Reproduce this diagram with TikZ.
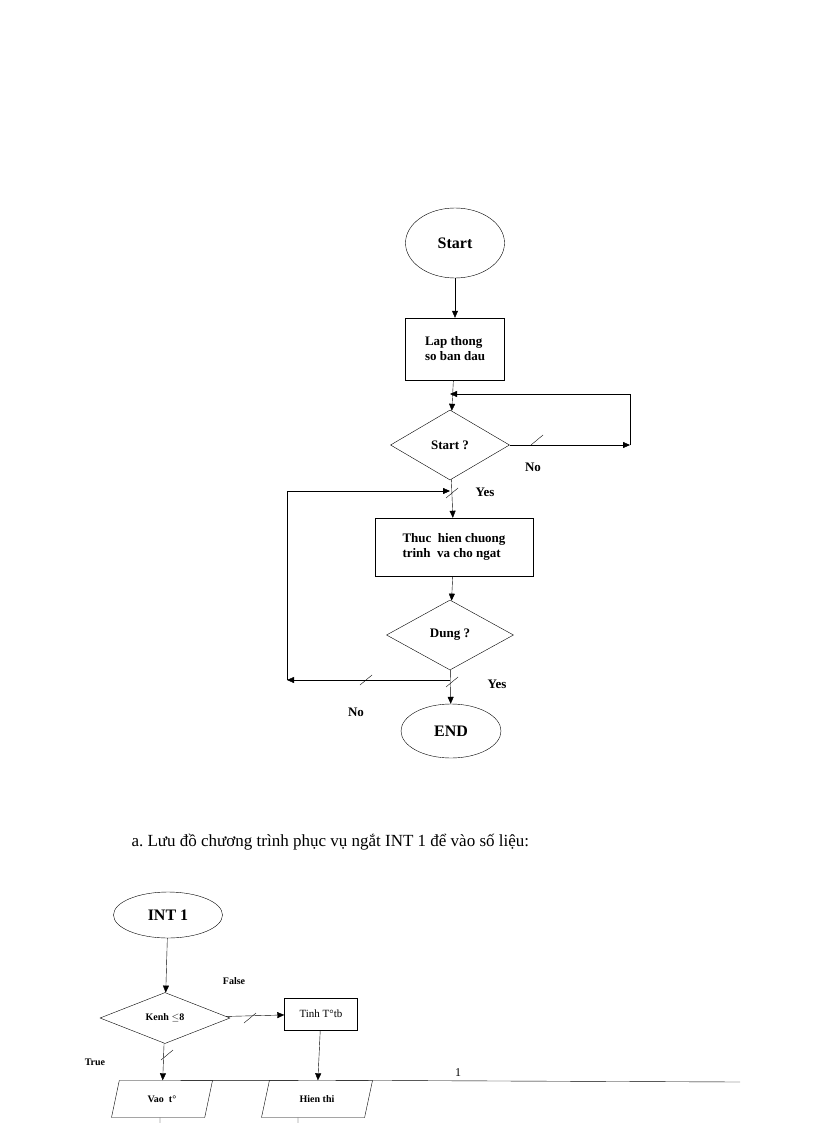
\documentclass[tikz,border=0pt]{standalone}
\usepackage{fontspec}
\setmainfont{Liberation Serif}
\usetikzlibrary{shapes.geometric,arrows.meta}
\tikzset{
  flow/.style={-{Triangle[length=7pt,width=6pt]}},
  lbl/.style={font=\fontsize{13}{15}\selectfont\bfseries},
  term/.style={draw,ellipse,font=\fontsize{16}{18}\selectfont\bfseries},
  proc/.style={draw,rectangle,align=left,lbl},
  cond/.style={draw,diamond,aspect=1.7,inner sep=1pt,lbl},
  io/.style={draw,trapezium,trapezium left angle=60,trapezium right angle=120,trapezium stretches body,lbl}
}
\newcommand{\tickmark}[2]{\draw (#1-6,#2+5) -- (#1+6,#2-5);}
\begin{document}
\begin{tikzpicture}[x=1pt,y=-1pt]
\useasboundingbox (0,0) rectangle (816,1123);
%% main program
\node[term,minimum width=99pt,minimum height=70pt] (start) at (455,243) {Start};
\node[proc,minimum width=99pt,minimum height=62pt] (init) at (455,349) {Lap thong\\so ban dau};
\node[cond,minimum width=119pt,minimum height=70pt] (qstart) at (450,445) {Start ?};
\node[proc,minimum width=158pt,minimum height=58pt] (run) at (454,547) {Thuc\ \ hien chuong\\trinh\ \ va cho ngat};
\node[cond,minimum width=127pt,minimum height=70pt] (qstop) at (450,635) {Dung ?};
\node[term,minimum width=100pt,minimum height=54pt] (end) at (451,731) {END};
\coordinate (wait) at (450,394);
\coordinate (noR) at (630,445);
\coordinate (back) at (450,491);
\coordinate (noL) at (287,680);
\coordinate (split) at (450,680);
\draw[flow] (start) -- (init);
\draw[flow] (init) -- (qstart);
\draw[flow] (qstart.east) -- (noR);
\draw[flow] (noR) |- (wait);
\draw[flow] (qstart) -- (run);
\draw[flow] (noL) |- (back);
\draw[flow] (run) -- (qstop);
\draw[flow] (qstop) -- (end);
\draw[flow] (split) -- (noL);
\tickmark{537}{440}
\tickmark{452}{493}
\tickmark{452}{682}
\tickmark{366}{680}
\node[lbl] at (533,467) {No};
\node[lbl] at (485,492) {Yes};
\node[lbl] at (497,684) {Yes};
\node[lbl] at (356,712) {No};
%% caption
\node[anchor=west,font=\fontsize{17}{20}\selectfont] at (128,842) {a.\ Lưu đồ chương trình phục vụ ngắt INT 1 để vào số liệu:};
%% interrupt routine
\node[term,minimum width=109pt,minimum height=46pt] (int) at (168,915) {INT 1};
\node[cond,minimum width=130pt,minimum height=51pt,font=\fontsize{10}{12}\selectfont\bfseries] (chan) at (165,1018) {Kenh $\leq$8};
\node[draw,minimum width=73pt,minimum height=32pt,font=\fontsize{11}{13}\selectfont] (avg) at (321,1014) {Tinh T°tb};
\node[io,minimum width=101pt,minimum height=37pt,font=\fontsize{10}{12}\selectfont\bfseries] (read) at (162,1099) {Vao\ \ t°};
\node[io,minimum width=111pt,minimum height=37pt,font=\fontsize{10}{12}\selectfont\bfseries] (show) at (317,1099) {Hien thi};
\coordinate (lineR) at (740,1082);
\coordinate (readB) at (160,1123);
\coordinate (showB) at (298,1123);
\draw[flow] (int) -- (chan);
\draw[flow] (chan) -- (avg);
\draw[flow] (chan) -- (read);
\draw[flow] (avg) -- (show);
\draw (read.north east) -- (show.north west);
\draw (show.north east) -- (lineR);
\draw (read.south) ++(-2,0) -- (readB);
\draw (show.south) ++(-19,0) -- (showB);
\tickmark{250}{1018}
\tickmark{167}{1055}
\node[font=\fontsize{10}{12}\selectfont\bfseries] at (234,981) {False};
\node[font=\fontsize{10}{12}\selectfont\bfseries] at (95,1062) {True};
\node[font=\fontsize{12}{14}\selectfont] at (458,1073) {1};
\end{tikzpicture}
\end{document}
